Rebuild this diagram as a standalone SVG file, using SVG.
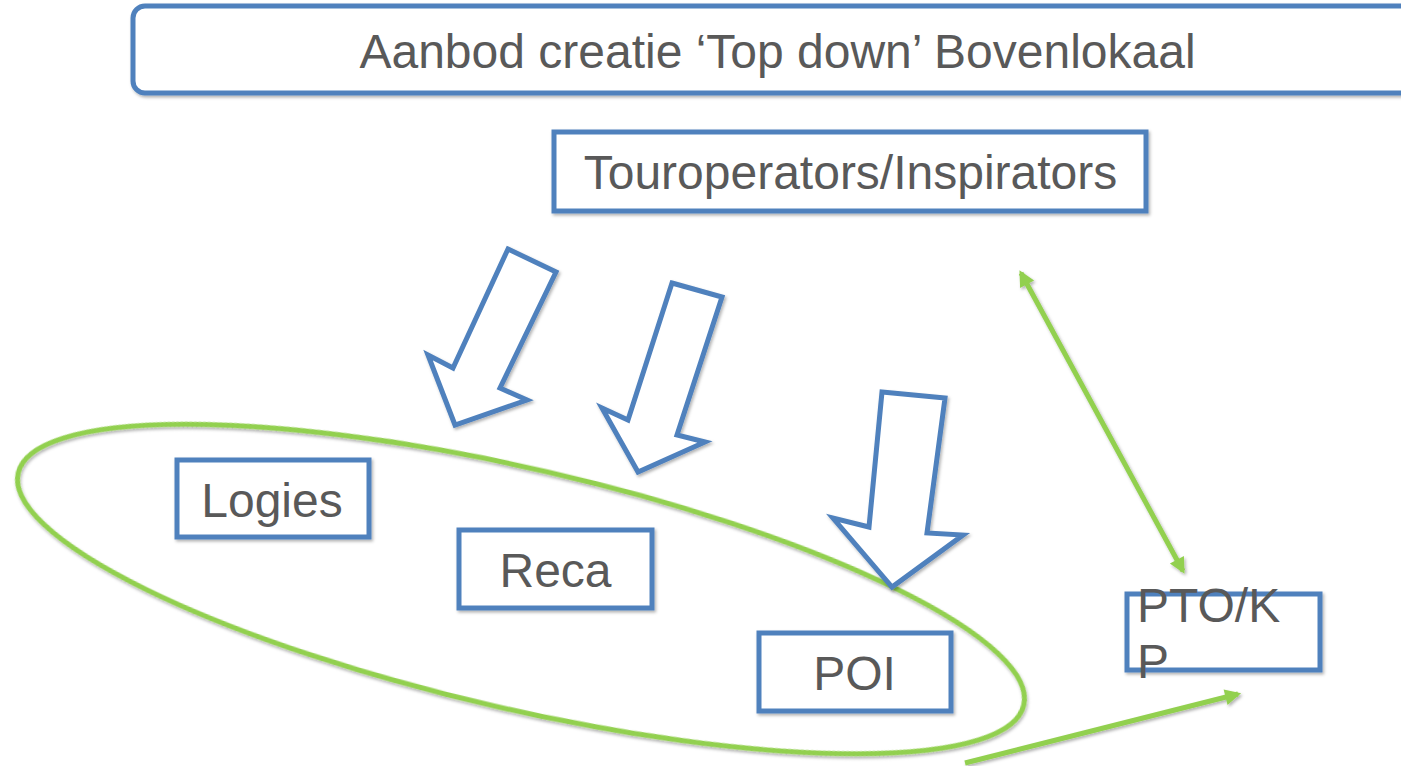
<svg xmlns="http://www.w3.org/2000/svg" width="1401" height="766" viewBox="0 0 1401 766">
<defs>
<style>
.box{fill:#fff;stroke:#4F81BD;stroke-width:5;filter:url(#sh)}
.blk{fill:#fff;stroke:#4F81BD;stroke-width:5;stroke-linejoin:miter;filter:url(#sh)}
.t{font-family:"Liberation Sans",Arial,sans-serif;font-size:48px;fill:#595959}
.g{fill:none;stroke:#92D050;stroke-width:5;filter:url(#sh)}
</style>
<filter id="sh" x="-10%" y="-10%" width="120%" height="130%">
<feDropShadow dx="1.5" dy="2" stdDeviation="1.5" flood-color="#000" flood-opacity="0.3"/>
</filter>
<marker id="ah" viewBox="0 0 10 10" refX="8" refY="5" markerWidth="20" markerHeight="16" markerUnits="userSpaceOnUse" orient="auto-start-reverse">
<path d="M0,0 L10,5 L0,10 z" fill="#92D050"/>
</marker>
</defs>
<rect width="1401" height="766" fill="#fff"/>
<g id="title">
<rect class="box" x="133" y="6" width="1300" height="87" rx="12" ry="12"/>
<text class="t" x="777.5" y="68" text-anchor="middle">Aanbod creatie ‘Top down’ Bovenlokaal</text>
</g>
<g id="touroperators">
<rect class="box" x="554" y="132" width="592" height="79"/>
<text class="t" x="850.5" y="189" text-anchor="middle">Touroperators/Inspirators</text>
</g>
<g id="group-ellipse">
<ellipse class="g" cx="521" cy="589" rx="516" ry="120" transform="rotate(13 521 589)"/>
</g>
<g id="logies">
<rect class="box" x="177" y="460" width="192" height="77"/>
<text class="t" x="272" y="517" text-anchor="middle">Logies</text>
</g>
<g id="reca">
<rect class="box" x="459" y="530" width="193" height="78"/>
<text class="t" x="555.5" y="587" text-anchor="middle">Reca</text>
</g>
<g id="poi">
<rect class="box" x="759" y="633" width="192" height="78"/>
<text class="t" x="854.5" y="690" text-anchor="middle">POI</text>
</g>
<g id="ptokp">
<rect class="box" x="1127" y="594" width="193" height="76"/>
<text class="t" x="1137" y="622">PTO/K</text>
<text class="t" x="1137" y="678">P</text>
</g>
<g id="block-arrows">
<polygon class="blk" points="508,249 556,272 500,388 527,400 455,425 428,355 453,368"/>
<polygon class="blk" points="672,283 722,297 677,435 705,442 638,472 602,408 628,420"/>
<polygon class="blk" points="882,392 945,398 927,533 963,535 892,587 833,518 869,527"/>
</g>
<g id="connectors">
<line class="g" x1="1021" y1="273" x2="1183" y2="571" marker-start="url(#ah)" marker-end="url(#ah)"/>
<line class="g" x1="965" y1="763" x2="1238" y2="694" marker-end="url(#ah)"/>
</g>
</svg>
